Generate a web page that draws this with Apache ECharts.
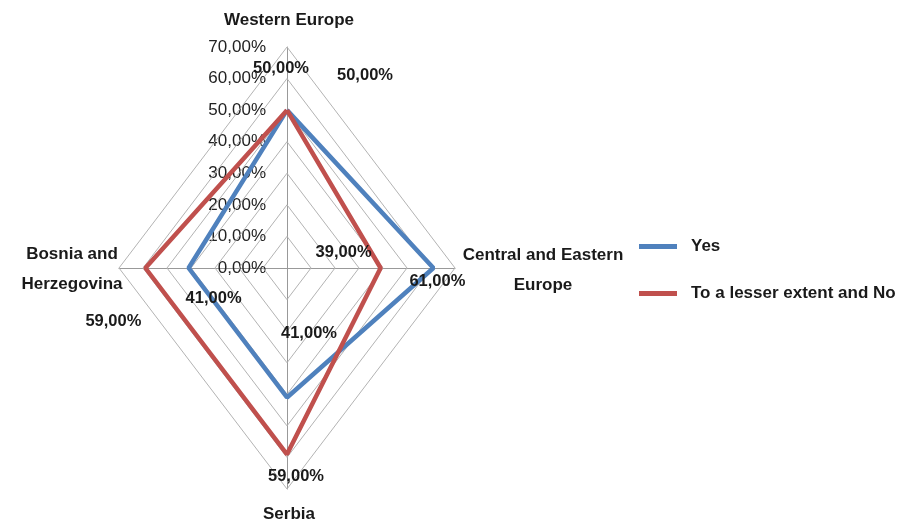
<!DOCTYPE html>
<html><head><meta charset="utf-8">
<script src="https://cdn.jsdelivr.net/npm/echarts@6/dist/echarts.min.js"></script>
<style>html,body{margin:0;padding:0;background:#fff}#c{width:898px;height:524px}</style>
</head><body><div id="c"></div>
<script>
const categories = ['Western Europe', 'Central and Eastern\nEurope', 'Serbia', 'Bosnia and\nHerzegovina'];
const seriesNames = ['Yes', 'To a lesser extent and No'];
const yesValues = [50, 61, 41, 41];
const noValues = [50, 39, 59, 59];
const ringLevels = [10, 20, 30, 40, 50, 60, 70];

const FONT = '"Liberation Sans", Arial, sans-serif';
const dirs = [[0, 1], [1, 0], [0, -1], [-1, 0]];
const fmt = v => v.toFixed(2).replace('.', ',') + '%';

const labelOffsets = {
  'Yes': [[-6, -42], [4, 13], [22, -64], [25, 30]],
  'To a lesser extent and No': [[78, -35], [-37, -16], [9, 22], [-32, 53]]
};

function toPoints(values, name) {
  const pts = values.map((v, i) => ({
    value: [dirs[i][0] * v, dirs[i][1] * v],
    label: { show: true, formatter: fmt(v), offset: labelOffsets[name][i] }
  }));
  pts.push({ value: pts[0].value.slice(), label: { show: false } });
  return pts;
}

const series = [];
ringLevels.forEach(r => {
  series.push({
    type: 'line', silent: true, symbol: 'none', animation: false,
    lineStyle: { color: '#b3b3b3', width: 1 },
    data: [[0, r], [r, 0], [0, -r], [-r, 0], [0, r]]
  });
});
const colors = ['#4F81BD', '#C0504D'];
[yesValues, noValues].forEach((vals, si) => {
  series.push({
    name: seriesNames[si], type: 'line', animation: false,
    symbol: 'circle', symbolSize: 0.1, showSymbol: true,
    itemStyle: { color: colors[si] },
    lineStyle: { color: colors[si], width: 4.5 },
    label: { position: 'inside', fontFamily: FONT, fontSize: 16.5, fontWeight: 'bold', color: '#1a1a1a' },
    z: 5,
    data: toPoints(vals, seriesNames[si])
  });
});

const catPos = [
  { x: 289, y: 20 },
  { x: 543, y: 270 },
  { x: 289, y: 514 },
  { x: 72, y: 269 }
];

const chart = echarts.init(document.getElementById('c'));
chart.setOption({
  backgroundColor: '#fff',
  animation: false,
  grid: { left: 119, width: 336, top: 47, height: 442 },
  xAxis: {
    type: 'value', min: -70, max: 70, interval: 10,
    axisLine: { onZero: true, lineStyle: { color: '#999', width: 1 } },
    axisTick: { show: false }, axisLabel: { show: false }, splitLine: { show: false }
  },
  yAxis: {
    type: 'value', min: -70, max: 70, interval: 10,
    offset: -168,
    axisLine: { onZero: false, lineStyle: { color: '#999', width: 1 } },
    axisTick: { show: false }, splitLine: { show: false },
    axisLabel: {
      margin: 21, fontFamily: FONT, fontSize: 17, color: '#222',
      formatter: v => v >= 0 ? fmt(v) : ''
    }
  },
  legend: {
    orient: 'vertical', left: 634, top: 233, itemGap: 30,
    itemWidth: 38, itemHeight: 5, icon: 'rect',
    textStyle: { fontFamily: FONT, fontSize: 17, fontWeight: 'bold', color: '#1a1a1a', padding: [0, 0, 0, 9] },
    data: seriesNames
  },
  graphic: categories.map((c, i) => ({
    type: 'text', x: catPos[i].x, y: catPos[i].y,
    style: {
      text: c, fontFamily: FONT, fontSize: 17, fontWeight: 'bold', fill: '#1a1a1a',
      align: 'center', verticalAlign: 'middle', lineHeight: 30
    }
  })),
  series: series
});
</script></body></html>
